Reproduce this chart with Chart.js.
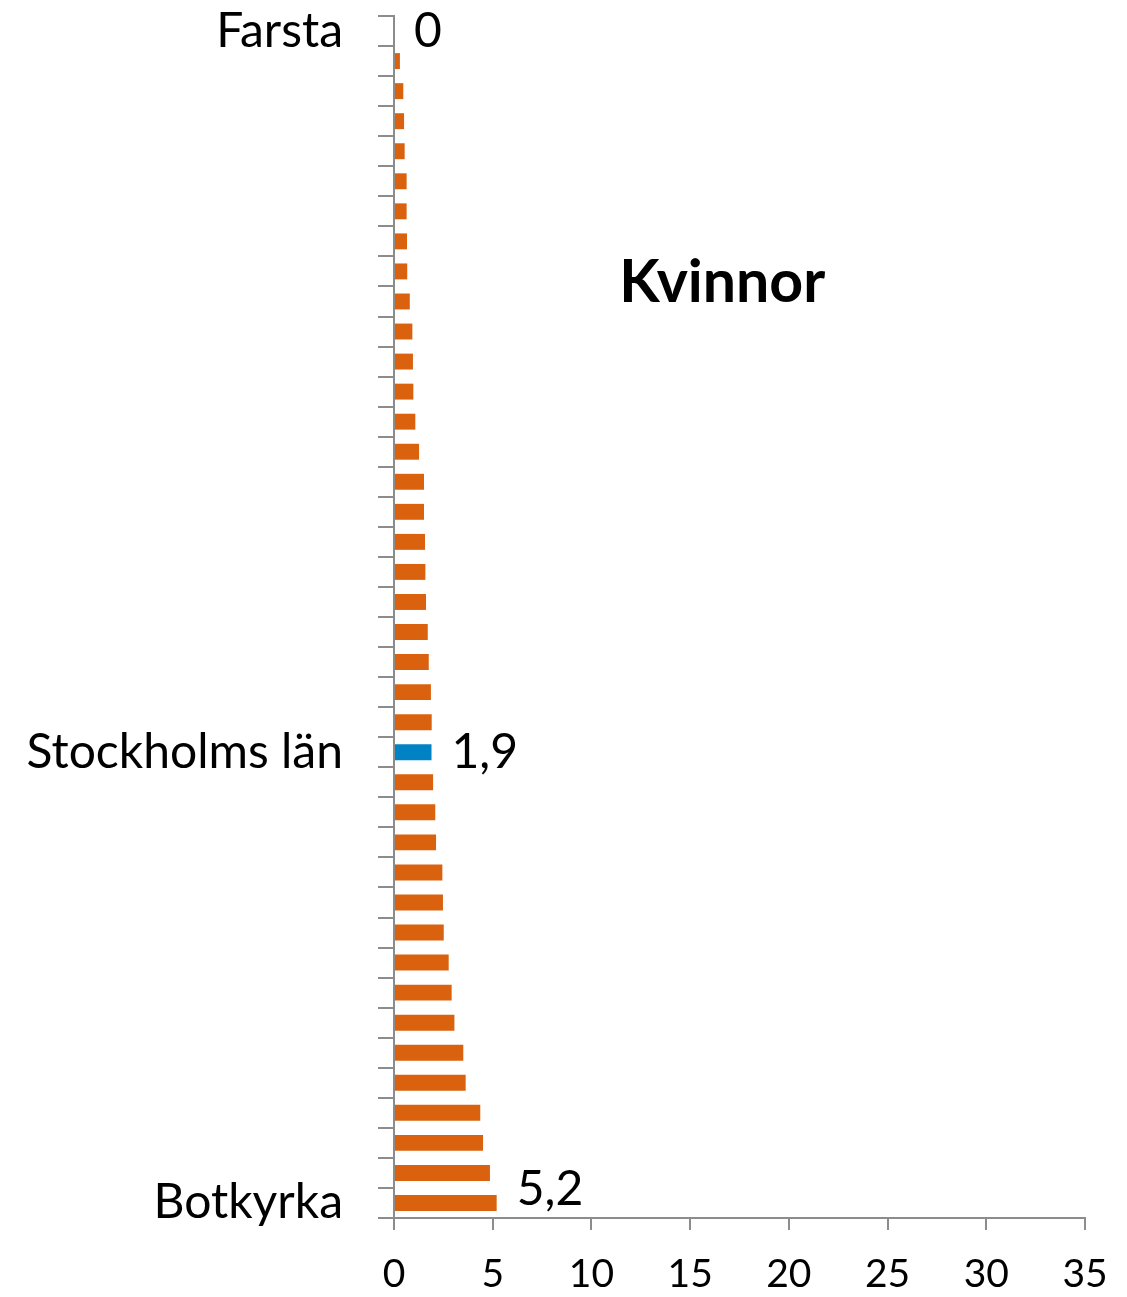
<!DOCTYPE html>
<html lang="sv">
<head>
<meta charset="utf-8">
<title>Kvinnor</title>
<script src="https://cdn.jsdelivr.net/npm/chart.js@4/dist/chart.umd.min.js"></script>
<style>
  html, body { margin: 0; padding: 0; background: #ffffff; }
  #wrap { width: 1127px; height: 1297px; }
</style>
</head>
<body>
<div id="wrap"><canvas id="chart" width="1127" height="1297"></canvas></div>
<script>
// Categories, top to bottom; only the first, the county and the last are named on the axis
const categories = [
  'Farsta', '', '', '', '', '', '', '', '', '',
  '', '', '', '', '', '', '', '', '', '',
  '', '', '', '', 'Stockholms län', '', '', '', '', '',
  '', '', '', '', '', '', '', '', '', 'Botkyrka'
];

// Share (%) per area
const values = [
  0, 0.3, 0.47, 0.51, 0.54, 0.64, 0.64, 0.66, 0.67, 0.8,
  0.93, 0.96, 0.98, 1.08, 1.27, 1.52, 1.52, 1.57, 1.59, 1.62,
  1.71, 1.76, 1.87, 1.91, 1.9, 1.98, 2.09, 2.13, 2.45, 2.48,
  2.52, 2.77, 2.92, 3.06, 3.51, 3.63, 4.37, 4.51, 4.86, 5.2
];

// Value axis ticks
const xTicks = [0, 5, 10, 15, 20, 25, 30, 35];

const chartTitle = 'Kvinnor';
const highlight = 'Stockholms län';

const ORANGE = '#DA620E';
const BLUE = '#0083C4';
const AXIS = '#8C8C8C';
const FONT = 'Lato, "Open Sans", "DejaVu Sans", sans-serif';

const fmt = v => Number.isInteger(v) ? String(v) : v.toFixed(1).replace('.', ',');

// Value labels beside the named bars, plus the chart heading inside the plot area
const annotate = {
  id: 'annotate',
  afterDatasetsDraw(chart) {
    const { ctx, chartArea } = chart;
    const meta = chart.getDatasetMeta(0);
    ctx.save();
    ctx.fillStyle = '#000000';
    ctx.font = '48px ' + FONT;
    ctx.textAlign = 'left';
    ctx.textBaseline = 'middle';
    meta.data.forEach((bar, i) => {
      if (!categories[i]) return;
      const y = Math.min(bar.y, chartArea.bottom - 28);
      ctx.fillText(fmt(values[i]), bar.x + 20, y);
    });
    ctx.font = 'bold 59px ' + FONT;
    ctx.textAlign = 'center';
    const tx = chartArea.left + (chartArea.right - chartArea.left) * 0.475;
    const ty = chartArea.top + (chartArea.bottom - chartArea.top) * 0.222;
    ctx.fillText(chartTitle, tx, ty);
    ctx.restore();
  }
};

new Chart(document.getElementById('chart'), {
  type: 'bar',
  data: {
    labels: categories,
    datasets: [{
      data: values,
      backgroundColor: c => categories[c.dataIndex] === highlight ? BLUE : ORANGE,
      borderWidth: 0,
      barPercentage: 0.53,
      categoryPercentage: 1.0
    }]
  },
  options: {
    indexAxis: 'y',
    responsive: false,
    devicePixelRatio: 1,
    animation: false,
    layout: { padding: { top: 16, right: 42, left: 0, bottom: 0 } },
    plugins: {
      legend: { display: false },
      tooltip: { enabled: false },
      title: { display: false }
    },
    scales: {
      x: {
        type: 'linear',
        min: 0,
        max: 35,
        afterBuildTicks: s => { s.ticks = xTicks.map(v => ({ value: v })); },
        afterFit: s => { s.height = 79; s.paddingLeft = 0; s.paddingRight = 0; },
        border: { display: true, color: AXIS, width: 2 },
        grid: { display: true, drawOnChartArea: false, drawTicks: true, tickLength: 12, color: AXIS, lineWidth: 2 },
        ticks: { color: '#000000', font: { family: FONT, size: 39 }, padding: 21, maxRotation: 0 }
      },
      y: {
        type: 'category',
        afterFit: s => { s.width = 394; s.paddingTop = 0; s.paddingBottom = 0; },
        border: { display: true, color: AXIS, width: 2 },
        grid: { display: true, offset: true, drawOnChartArea: false, drawTicks: true, tickLength: 16, color: AXIS, lineWidth: 2 },
        ticks: { color: '#000000', font: { family: FONT, size: 48 }, padding: 35, autoSkip: false }
      }
    }
  },
  plugins: [annotate]
});
</script>
</body>
</html>
